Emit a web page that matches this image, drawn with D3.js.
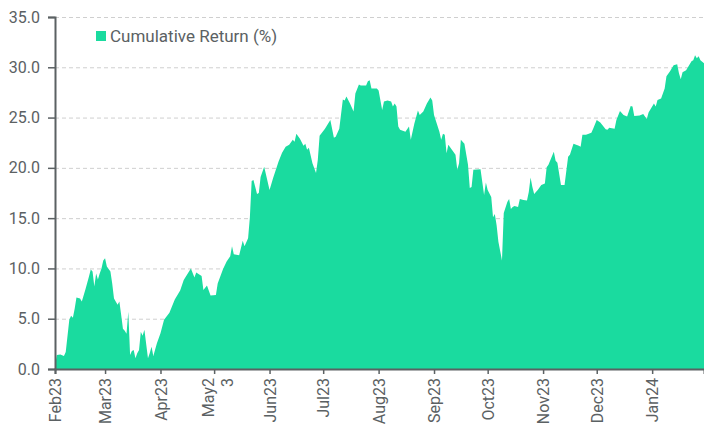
<!DOCTYPE html>
<html>
<head>
<meta charset="utf-8">
<script src="https://cdnjs.cloudflare.com/ajax/libs/d3/7.8.5/d3.min.js"></script>
<title>Cumulative Return</title>
<style>
  body{ margin: 0; background: #fff; }
  text{ font-family: Roboto, "Liberation Sans", sans-serif; fill: #5b6163; }
</style>
</head>
<body>
<script>
// data
var dates = [
  "2023-02-01","2023-02-02","2023-02-04","2023-02-06","2023-02-07","2023-02-09","2023-02-10","2023-02-11",
  "2023-02-12","2023-02-13","2023-02-15","2023-02-16","2023-02-18","2023-02-20","2023-02-21","2023-02-22",
  "2023-02-23","2023-02-24","2023-02-25","2023-02-26","2023-02-27","2023-02-28","2023-03-01","2023-03-02",
  "2023-03-04","2023-03-05","2023-03-06","2023-03-08","2023-03-09","2023-03-10","2023-03-11","2023-03-12",
  "2023-03-13","2023-03-14","2023-03-15","2023-03-16","2023-03-17","2023-03-18","2023-03-19","2023-03-20",
  "2023-03-21","2023-03-22","2023-03-23","2023-03-25","2023-03-26","2023-03-27","2023-03-28","2023-03-30",
  "2023-04-01","2023-04-03","2023-04-06","2023-04-09","2023-04-12","2023-04-14","2023-04-18","2023-04-20",
  "2023-04-21","2023-04-24","2023-04-25","2023-04-27","2023-04-29","2023-05-02","2023-05-03","2023-05-06",
  "2023-05-08","2023-05-10","2023-05-11","2023-05-12","2023-05-15","2023-05-17","2023-05-18","2023-05-20",
  "2023-05-21","2023-05-22","2023-05-23","2023-05-25","2023-05-26","2023-05-27","2023-05-29","2023-06-01",
  "2023-06-03","2023-06-06","2023-06-08","2023-06-10","2023-06-12","2023-06-14","2023-06-15","2023-06-16",
  "2023-06-18","2023-06-20","2023-06-21","2023-06-22","2023-06-23","2023-06-25","2023-06-27","2023-06-28",
  "2023-06-29","2023-07-02","2023-07-05","2023-07-07","2023-07-08","2023-07-10","2023-07-12","2023-07-13",
  "2023-07-14","2023-07-16","2023-07-18","2023-07-19","2023-07-21","2023-07-22","2023-07-25","2023-07-26",
  "2023-07-27","2023-07-28","2023-07-31","2023-08-01","2023-08-03","2023-08-04","2023-08-06","2023-08-08",
  "2023-08-09","2023-08-10","2023-08-11","2023-08-12","2023-08-13","2023-08-16","2023-08-18","2023-08-19",
  "2023-08-21","2023-08-23","2023-08-24","2023-08-26","2023-08-28","2023-08-30","2023-08-31","2023-09-01",
  "2023-09-04","2023-09-05","2023-09-06","2023-09-07","2023-09-08","2023-09-09","2023-09-11","2023-09-13",
  "2023-09-14","2023-09-15","2023-09-16","2023-09-18","2023-09-20","2023-09-21","2023-09-22","2023-09-23",
  "2023-09-27","2023-09-29","2023-09-30","2023-10-01","2023-10-03","2023-10-04","2023-10-05","2023-10-06",
  "2023-10-07","2023-10-09","2023-10-10","2023-10-12","2023-10-13","2023-10-14","2023-10-15","2023-10-16",
  "2023-10-18","2023-10-19","2023-10-21","2023-10-23","2023-10-24","2023-10-25","2023-10-26","2023-10-27",
  "2023-10-29","2023-10-31","2023-11-02","2023-11-03","2023-11-04","2023-11-07","2023-11-08","2023-11-09",
  "2023-11-11","2023-11-13","2023-11-15","2023-11-16","2023-11-18","2023-11-21","2023-11-22","2023-11-23",
  "2023-11-25","2023-11-28","2023-11-29","2023-12-01","2023-12-03","2023-12-06","2023-12-07","2023-12-08",
  "2023-12-11","2023-12-12","2023-12-14","2023-12-16","2023-12-18","2023-12-20","2023-12-21","2023-12-22",
  "2023-12-25","2023-12-27","2023-12-29","2023-12-30","2024-01-02","2024-01-03","2024-01-04","2024-01-06",
  "2024-01-08","2024-01-09","2024-01-11","2024-01-13","2024-01-15","2024-01-16","2024-01-17","2024-01-18",
  "2024-01-20","2024-01-23","2024-01-24","2024-01-25","2024-01-26","2024-01-27","2024-01-28","2024-01-30"
];
var returns = [
  0.3, 1.4, 1.45, 1.3, 1.7, 4.9, 5.3, 5.1,
  6.0, 7.1, 7.0, 6.7, 7.9, 9.2, 9.9, 9.7,
  8.2, 9.5, 8.9, 9.5, 10.0, 10.8, 11.0, 10.2,
  9.7, 8.5, 7.0, 6.4, 6.7, 5.4, 4.0, 3.8,
  3.5, 5.7, 1.4, 1.8, 1.9, 1.06, 1.56, 1.9,
  3.7, 3.3, 3.9, 1.06, 1.6, 2.2, 1.3, 2.55,
  3.55, 4.9, 5.6, 6.9, 7.8, 8.85, 10.0, 9.1,
  9.6, 9.25, 7.85, 8.3, 7.3, 7.35, 8.5, 9.95,
  10.7, 11.2, 12.2, 11.4, 11.3, 12.75, 12.2, 13.0,
  15.1, 18.7, 18.8, 17.4, 17.5, 19.1, 20.1, 17.8,
  19.0, 20.6, 21.5, 22.1, 22.3, 22.8, 22.6, 23.4,
  22.9, 22.2, 22.4, 21.8, 22.0, 20.45, 19.5, 20.8,
  23.2, 23.9, 24.75, 23.0, 23.1, 23.9, 26.8, 26.7,
  27.1, 26.4, 25.6, 27.4, 28.3, 28.2, 28.2, 28.6,
  28.7, 27.9, 27.9, 27.7, 25.75, 26.6, 26.7, 26.6,
  26.1, 26.4, 26.1, 24.1, 23.8, 23.6, 24.1, 22.8,
  24.4, 25.7, 25.25, 25.6, 26.4, 27.0, 26.7, 25.25,
  23.6, 22.8, 23.4, 23.3, 21.45, 22.3, 21.8, 21.3,
  19.8, 20.45, 22.8, 22.4, 20.3, 18.0, 18.1, 19.8,
  19.85, 17.3, 18.55, 17.8, 17.1, 15.1, 15.4, 14.3,
  12.65, 10.8, 15.5, 16.6, 16.9, 15.9, 16.1, 16.2,
  16.1, 16.9, 16.8, 16.75, 17.6, 19.05, 18.1, 17.4,
  17.8, 18.3, 18.45, 20.05, 20.3, 21.6, 20.7, 20.5,
  18.3, 18.3, 21.1, 21.3, 22.4, 22.2, 22.1, 23.3,
  23.3, 23.5, 23.9, 24.75, 24.5, 23.85, 23.8, 24.0,
  23.9, 24.75, 25.65, 25.25, 25.1, 26.15, 26.1, 25.15,
  25.2, 25.35, 24.85, 25.5, 26.4, 26.1, 26.75, 26.9,
  27.9, 29.1, 29.6, 30.2, 30.3, 29.4, 28.8, 29.5,
  29.7, 30.6, 30.7, 31.2, 30.9, 31.1, 30.7, 30.4
];
var yTicks = [0, 5, 10, 15, 20, 25, 30, 35];
var xTickDates = ["2023-02-01","2023-03-01","2023-04-01","2023-05-01","2023-06-01","2023-07-01",
                  "2023-08-01","2023-09-01","2023-10-01","2023-11-01","2023-12-01","2024-01-01"];
var xTickLabels = ["Feb23","Mar23","Apr23","May2\n3","Jun23","Jul23",
                   "Aug23","Sep23","Oct23","Nov23","Dec23","Jan24"];
var seriesName = "Cumulative Return (%)";

var W = 704, H = 430,
    margin = {top: 17, right: 0, bottom: 61, left: 55},
    green = "#1adb9f",
    axisColor = "#5b6163";

var parse = d3.timeParse("%Y-%m-%d");
var data = dates.map(function(d, i){ return {date: parse(d), value: returns[i]}; });

var svg = d3.select("body").append("svg")
    .attr("width", W)
    .attr("height", H);

var x = d3.scaleTime()
    .domain([parse(dates[0]), parse(dates[dates.length - 1])])
    .range([margin.left, W - margin.right]);

var y = d3.scaleLinear()
    .domain([0, 35])
    .range([H - margin.bottom, margin.top]);

// grid
svg.append("g")
  .selectAll("line")
  .data(yTicks.slice(1))
  .enter().append("line")
    .attr("x1", margin.left)
    .attr("x2", W - margin.right)
    .attr("y1", function(d){ return y(d) + 0.5; })
    .attr("y2", function(d){ return y(d) + 0.5; })
    .attr("stroke", "#cfcfcf")
    .attr("stroke-width", 1)
    .attr("stroke-dasharray", "4,3");

// area
var area = d3.area()
    .x(function(d){ return x(d.date); })
    .y0(y(0))
    .y1(function(d){ return y(d.value); });

svg.append("path")
    .datum(data)
    .attr("d", area)
    .attr("fill", green);

// y axis
var yAxis = svg.append("g")
    .attr("transform", "translate(" + margin.left + ",0)")
    .call(d3.axisLeft(y).tickValues(yTicks).tickFormat(d3.format(".1f")).tickSize(7).tickPadding(8));
yAxis.select(".domain").attr("stroke", axisColor).attr("stroke-width", 2);
yAxis.selectAll(".tick line").attr("stroke", axisColor).attr("stroke-width", 1.5);
yAxis.selectAll("text").attr("font-size", 16).attr("fill", axisColor);

// x axis
var xAxis = svg.append("g")
    .attr("transform", "translate(0," + y(0) + ")")
    .call(d3.axisBottom(x).tickValues(xTickDates.map(parse)).tickSize(5).tickFormat(""));
xAxis.select(".domain").attr("stroke", axisColor).attr("stroke-width", 2);
xAxis.selectAll(".tick line").attr("stroke", axisColor).attr("stroke-width", 1.5);

xAxis.selectAll(".tick").each(function(d, i){
  var lines = xTickLabels[i].split("\n");
  var t = d3.select(this).append("text")
      .attr("transform", "rotate(-90)")
      .attr("x", -9)
      .attr("y", 0)
      .attr("text-anchor", "end")
      .attr("font-size", 16)
      .attr("fill", axisColor);
  lines.forEach(function(s, j){
    t.append("tspan")
      .attr("x", -9)
      .attr("dy", j === 0 ? (lines.length > 1 ? "-0.07em" : "0.36em") : "1.2em")
      .text(s);
  });
});

// legend
var legend = svg.append("g").attr("transform", "translate(96,31)");
legend.append("rect")
    .attr("width", 10)
    .attr("height", 10)
    .attr("fill", green);
legend.append("text")
    .attr("x", 14)
    .attr("y", 11)
    .attr("font-size", 17)
    .attr("fill", axisColor)
    .text(seriesName);
</script>
</body>
</html>
